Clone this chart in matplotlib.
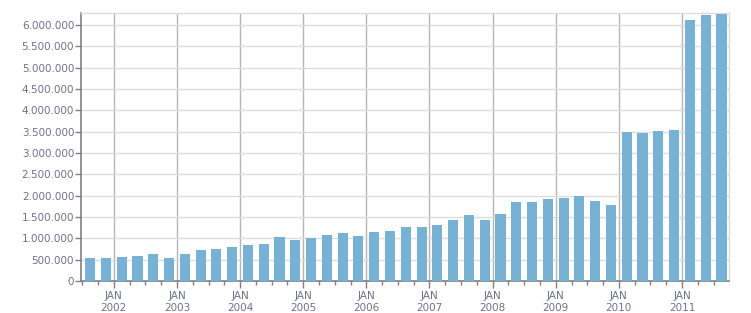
"""Quarterly totals, Q3 2001 - Q3 2011, bar chart with year gridlines."""

import matplotlib
matplotlib.use("Agg")
import matplotlib.pyplot as plt
from matplotlib.ticker import FuncFormatter, MultipleLocator, FixedLocator

QUARTERS = [
    "2001Q3", "2001Q4",
    "2002Q1", "2002Q2", "2002Q3", "2002Q4",
    "2003Q1", "2003Q2", "2003Q3", "2003Q4",
    "2004Q1", "2004Q2", "2004Q3", "2004Q4",
    "2005Q1", "2005Q2", "2005Q3", "2005Q4",
    "2006Q1", "2006Q2", "2006Q3", "2006Q4",
    "2007Q1", "2007Q2", "2007Q3", "2007Q4",
    "2008Q1", "2008Q2", "2008Q3", "2008Q4",
    "2009Q1", "2009Q2", "2009Q3", "2009Q4",
    "2010Q1", "2010Q2", "2010Q3", "2010Q4",
    "2011Q1", "2011Q2", "2011Q3",
]
VALUES = [
    548000, 548000,
    571000, 587000, 641000, 548000,
    634000, 735000, 759000, 806000,
    853000, 868000, 1033000, 962000,
    1009000, 1080000, 1127000, 1056000,
    1150000, 1173000, 1267000, 1267000,
    1314000, 1432000, 1549000, 1432000,
    1572000, 1854000, 1854000, 1924000,
    1948000, 1995000, 1877000, 1784000,
    3497000, 3473000, 3520000, 3544000,
    6125000, 6243000, 6266000,
]
YEARS = list(range(2002, 2012))
YEAR_LABELS = [f"JAN\n{y}" for y in YEARS]

BAR_COLOR = "#77b1d4"
TEXT_COLOR = "#6f6f8c"


def quarter_pos(q: str) -> float:
    # centre of the quarter, in fractional years
    return int(q[:4]) + (int(q[-1]) - 1) * 0.25 + 0.125


def thousands(v, _pos):
    return f"{int(round(v)):,}".replace(",", ".")


x = [quarter_pos(q) for q in QUARTERS]

fig = plt.figure(figsize=(7.51, 3.13), dpi=100)
ax = fig.add_axes([0.108, 0.102, 0.863, 0.856])

ax.bar(x, VALUES, width=0.16, color=BAR_COLOR, zorder=3)

ax.set_xlim(2001.482, 2011.748)
ax.set_ylim(0, 6280000)

ax.yaxis.set_major_locator(MultipleLocator(500000))
ax.yaxis.set_major_formatter(FuncFormatter(thousands))
ax.xaxis.set_major_locator(FixedLocator(YEARS))
ax.set_xticklabels(YEAR_LABELS)
ax.xaxis.set_minor_locator(MultipleLocator(0.25))

ax.grid(axis="y", color="#dcdcdc", linewidth=1, zorder=0)
ax.grid(axis="x", which="major", color="#b4b4b4", linewidth=1, zorder=1)

ax.tick_params(axis="y", length=4, width=1, color="#808080",
               labelsize=7.5, labelcolor=TEXT_COLOR, pad=1)
ax.tick_params(axis="x", which="major", length=5, width=1, color="#808080",
               labelsize=7.5, labelcolor=TEXT_COLOR, pad=2)
ax.tick_params(axis="x", which="minor", length=3, width=1, color="#808080")
for lab in ax.get_xticklabels():
    lab.set_linespacing(1.25)

for side in ("top", "right"):
    ax.spines[side].set_color("#dcdcdc")
    ax.spines[side].set_linewidth(1)
for side in ("left", "bottom"):
    ax.spines[side].set_color("#808080")
    ax.spines[side].set_linewidth(1.2)

fig.savefig("out.png", dpi=100)
